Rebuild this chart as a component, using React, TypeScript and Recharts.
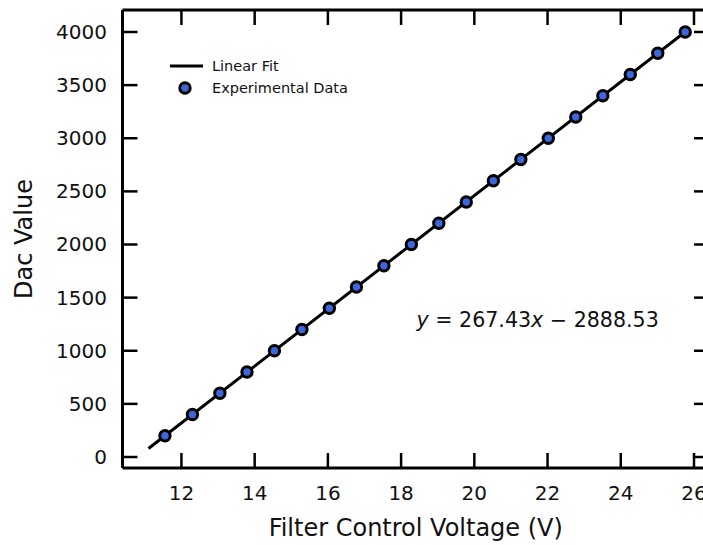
import { Legend, ReferenceDot, Scatter, ScatterChart, XAxis, YAxis } from 'recharts';

// measured points (V, dac)
const voltage = [11.55, 12.3, 13.05, 13.79, 14.54, 15.29, 16.04, 16.78, 17.53, 18.28, 19.03, 19.78, 20.52, 21.27, 22.02, 22.77, 23.51, 24.26, 25.01, 25.76];
const dacValue = [200, 400, 600, 800, 1000, 1200, 1400, 1600, 1800, 2000, 2200, 2400, 2600, 2800, 3000, 3200, 3400, 3600, 3800, 4000];

// ends of the fitted line
const fitVoltage = [11.1, 25.8];
const fitDac = [80, 4012];

const xTicks = [12, 14, 16, 18, 20, 22, 24, 26];
const yTicks = [0, 500, 1000, 1500, 2000, 2500, 3000, 3500, 4000];
const xDomain = [10.39, 26.41];
const yDomain = [-103.5, 4207];

const equationX = 21.73;
const equationY = 1289;

const points = voltage.map((v, i) => ({ x: v, y: dacValue[i] }));
const fitLine = fitVoltage.map((v, i) => ({ x: v, y: fitDac[i] }));

const FONT = 'DejaVu Sans';
const INK = '#111';
const MARKER_FILL = '#3d66dc';
const TICK_LEN = 15;

const spine = { stroke: '#000', strokeWidth: 3 };

function Marker(props: any) {
    return <circle cx={props.cx} cy={props.cy} r={5.2} fill={MARKER_FILL} stroke="#000" strokeWidth={3} />;
}

function NoMarker() {
    return <g />;
}

// inward ticks: tickSize/tickMargin are 0 so x/y sit on the spine
function BottomTick(props: any) {
    const { x, y, payload } = props;
    return (
        <g>
            <line x1={x} y1={y} x2={x} y2={y - TICK_LEN} stroke="#000" strokeWidth={2.5} />
            <text x={x} y={y + 32} textAnchor="middle" fontSize={20} fontFamily={FONT} fill={INK}>
                {payload.value}
            </text>
        </g>
    );
}

function LeftTick(props: any) {
    const { x, y, payload } = props;
    return (
        <g>
            <line x1={x} y1={y} x2={x + TICK_LEN} y2={y} stroke="#000" strokeWidth={2.5} />
            <text x={x - 15.5} y={y} textAnchor="end" dominantBaseline="central" fontSize={20} fontFamily={FONT} fill={INK}>
                {payload.value}
            </text>
        </g>
    );
}

function TopTick(props: any) {
    const { x, y } = props;
    return <line x1={x} y1={y} x2={x} y2={y + TICK_LEN} stroke="#000" strokeWidth={2.5} />;
}

function RightTick(props: any) {
    const { x, y } = props;
    return <line x1={x} y1={y} x2={x - TICK_LEN} y2={y} stroke="#000" strokeWidth={2.5} />;
}

function LegendBox() {
    return (
        <svg width={200} height={50} style={{ display: 'block' }}>
            <line x1={2} y1={11} x2={35} y2={11} stroke="#000" strokeWidth={3} />
            <text x={44} y={11} dominantBaseline="central" fontSize={14.5} fontFamily={FONT} fill={INK}>
                Linear Fit
            </text>
            <circle cx={17} cy={33} r={5.2} fill={MARKER_FILL} stroke="#000" strokeWidth={3} />
            <text x={44} y={33} dominantBaseline="central" fontSize={14.5} fontFamily={FONT} fill={INK}>
                Experimental Data
            </text>
        </svg>
    );
}

function Equation(props: any) {
    const vb = props.viewBox || {};
    return (
        <text x={vb.x} y={vb.y} textAnchor="middle" dominantBaseline="central" fontSize={20.6} fontFamily={FONT} fill={INK}>
            <tspan fontStyle="italic">y</tspan>
            <tspan> = 267.43</tspan>
            <tspan fontStyle="italic">x</tspan>
            <tspan> − 2888.53</tspan>
        </text>
    );
}

function XTitle(props: any) {
    const vb = props.viewBox || {};
    return (
        <text x={vb.x + vb.width / 2} y={vb.y + 68} textAnchor="middle" fontSize={24} fontFamily={FONT} fill={INK}>
            Filter Control Voltage (V)
        </text>
    );
}

function YTitle(props: any) {
    const vb = props.viewBox || {};
    const cx = vb.x + 24;
    const cy = vb.y + vb.height / 2;
    return (
        <text x={cx} y={cy} transform={`rotate(-90 ${cx} ${cy})`} textAnchor="middle" dominantBaseline="central" fontSize={24} fontFamily={FONT} fill={INK}>
            Dac Value
        </text>
    );
}

export default function App() {
    return (
        <div style={{ position: 'fixed', left: 0, top: 0, width: 703, height: 545, overflow: 'hidden', background: '#fff', fontFamily: FONT }}>
            <ScatterChart width={712} height={545} margin={{ top: 9, right: 2, bottom: 0, left: 0 }}>
                <XAxis
                    xAxisId={0}
                    dataKey="x"
                    type="number"
                    domain={xDomain}
                    ticks={xTicks}
                    height={77}
                    tickSize={0}
                    tickMargin={0}
                    axisLine={spine}
                    tickLine={false}
                    tick={BottomTick}
                    label={{ content: (p: any) => <XTitle {...p} /> }}
                />
                <XAxis
                    xAxisId="top"
                    dataKey="x"
                    orientation="top"
                    type="number"
                    domain={xDomain}
                    ticks={xTicks}
                    height={1}
                    tickSize={0}
                    tickMargin={0}
                    axisLine={spine}
                    tickLine={false}
                    tick={TopTick}
                />
                <YAxis
                    yAxisId={0}
                    dataKey="y"
                    type="number"
                    domain={yDomain}
                    ticks={yTicks}
                    width={122.5}
                    tickSize={0}
                    tickMargin={0}
                    axisLine={spine}
                    tickLine={false}
                    tick={LeftTick}
                    label={{ content: (p: any) => <YTitle {...p} /> }}
                />
                <YAxis
                    yAxisId="right"
                    dataKey="y"
                    orientation="right"
                    type="number"
                    domain={yDomain}
                    ticks={yTicks}
                    width={1}
                    tickSize={0}
                    tickMargin={0}
                    axisLine={spine}
                    tickLine={false}
                    tick={RightTick}
                />
                <Legend
                    layout="vertical"
                    align="center"
                    verticalAlign="middle"
                    wrapperStyle={{ left: 168, top: 55, width: 200, height: 50 }}
                    content={() => <LegendBox />}
                />
                {/* invisible series so the top/right frame axes get drawn */}
                <Scatter xAxisId="top" yAxisId="right" data={points} shape={NoMarker} legendType="none" isAnimationActive={false} />
                <Scatter
                    name="Linear Fit"
                    data={fitLine}
                    line={{ stroke: '#000', strokeWidth: 3 }}
                    shape={NoMarker}
                    fill="#000"
                    isAnimationActive={false}
                />
                <Scatter name="Experimental Data" data={points} shape={Marker} fill={MARKER_FILL} isAnimationActive={false} />
                <ReferenceDot
                    x={equationX}
                    y={equationY}
                    r={0}
                    fill="none"
                    stroke="none"
                    label={{ content: (p: any) => <Equation {...p} /> }}
                />
            </ScatterChart>
        </div>
    );
}
